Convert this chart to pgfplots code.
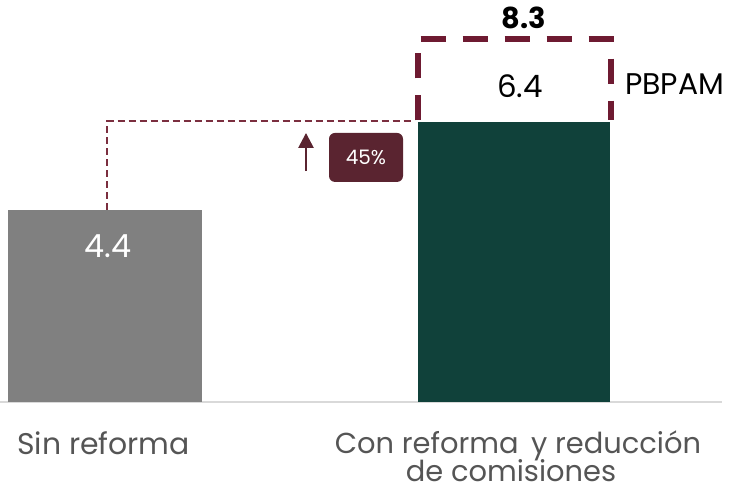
\documentclass[border=0pt]{standalone}
\usepackage{pgfplots}
\pgfplotsset{compat=1.18}
\usepackage{fontspec}
\setmainfont{Poppins}
\usetikzlibrary{arrows.meta}
\definecolor{barGray}{HTML}{808080}
\definecolor{barGreen}{HTML}{10413A}
\definecolor{maroon}{HTML}{6E1A31}
\definecolor{lineMaroon}{HTML}{7B2E3F}
\definecolor{boxMaroon}{HTML}{5A2430}
\definecolor{labGray}{HTML}{555555}
\definecolor{baseGray}{HTML}{D9D9D9}
\begin{document}
\begin{tikzpicture}
\begin{axis}[
  at={(0,0)}, anchor=south west,
  scale only axis, width=730bp, height=402bp,
  xmin=0, xmax=730, ymin=0, ymax=9.1886,
  axis lines=none, clip=false,
]
% baseline
\addplot[baseGray, line width=2bp] coordinates {(0,0) (722,0)};
% bars
\addplot[ybar, bar shift=0pt, bar width=194, fill=barGray, draw=none] coordinates {(105,4.4)};
\addplot[ybar, bar shift=0pt, bar width=192, fill=barGreen, draw=none] coordinates {(514,6.4)};
% dashed PBPAM box (6.4 to 8.3)
\addplot[maroon, line width=6bp, dash pattern=on 25bp off 17bp] coordinates {(418,6.44) (418,8.3) (611,8.3) (611,6.44)};
% reference dashed line
\addplot[lineMaroon, line width=1.4bp, dash pattern=on 7bp off 4bp] coordinates {(107,4.4) (107,6.42) (412,6.42)};
% arrow
\addplot[boxMaroon, line width=2.5bp, -{Triangle[length=15bp,width=15bp]}] coordinates {(306,5.28) (306,6.15)};
% labels
\node[font=\fontsize{29}{30}\selectfont\bfseries, text=black, anchor=base] at (axis cs:524,8.53) {8.3};
\node[font=\fontsize{31}{30}\selectfont, text=black, anchor=base] at (axis cs:520,6.95) {6.4};
\node[font=\fontsize{30}{30}\selectfont, text=black, anchor=base west, inner sep=0pt] at (axis cs:625,7.04) {PBPAM};
\node[font=\fontsize{32}{30}\selectfont, text=white, anchor=base] at (axis cs:108,3.314) {4.4};
\node[fill=boxMaroon, rounded corners=6bp, minimum width=74bp, minimum height=49bp, inner sep=0pt,
      font=\fontsize{20}{22}\selectfont, text=white] at (axis cs:366,5.59) {45\%};
\node[font=\fontsize{30}{30}\selectfont, text=labGray, anchor=base] at (axis cs:103.5,-1.21) {Sin reforma};
\node[font=\fontsize{29}{30}\selectfont, text=labGray, anchor=base] at (axis cs:518,-1.166) {Con reforma\, y reducción};
\node[font=\fontsize{29}{30}\selectfont, text=labGray, anchor=base, inner sep=1bp] at (axis cs:511,-1.806) {de comisiones};
\end{axis}
\pgfresetboundingbox
\path[use as bounding box] (0,-90bp) rectangle (730bp,402bp);
\end{tikzpicture}
\end{document}
